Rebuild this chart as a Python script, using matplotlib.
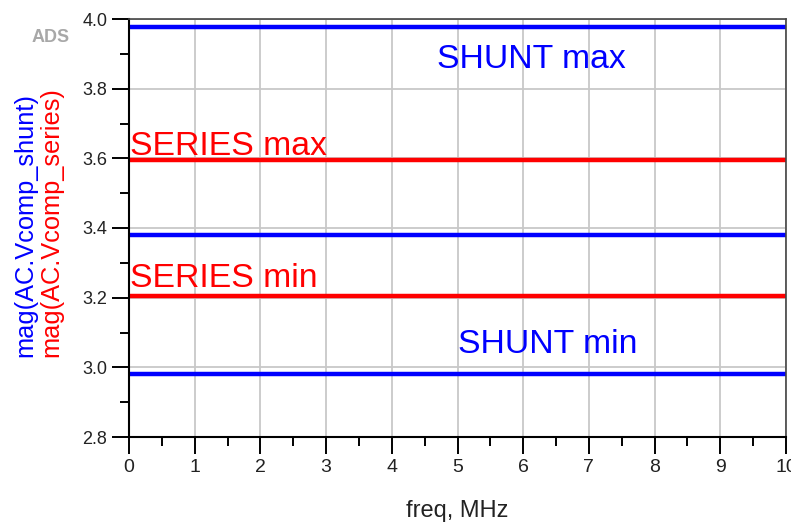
import matplotlib
matplotlib.use("Agg")
import matplotlib.pyplot as plt
from matplotlib.ticker import MultipleLocator

plt.rcParams['font.family'] = ['Liberation Sans', 'DejaVu Sans']

# data (flat magnitude traces over frequency)
freq_mhz = [0, 10]
shunt_max = [3.976, 3.976]
shunt_min = [2.981, 2.981]
shunt_mid = [3.380, 3.380]
series_max = [3.595, 3.595]
series_min = [3.205, 3.205]

xticks = list(range(0, 11))
yticks = [2.8, 3.0, 3.2, 3.4, 3.6, 3.8, 4.0]

blue = '#0000ff'
red = '#ff0000'

fig = plt.figure(figsize=(7.91, 5.25), dpi=100)
ax = fig.add_axes([129 / 791, 1 - 437 / 525, (786 - 129) / 791, (437 - 19) / 525])

ax.plot(freq_mhz, shunt_max, color=blue, lw=3.2, solid_capstyle='butt')
ax.plot(freq_mhz, shunt_mid, color=blue, lw=3.2, solid_capstyle='butt')
ax.plot(freq_mhz, shunt_min, color=blue, lw=3.2, solid_capstyle='butt')
ax.plot(freq_mhz, series_max, color=red, lw=3.2, solid_capstyle='butt')
ax.plot(freq_mhz, series_min, color=red, lw=3.2, solid_capstyle='butt')

ax.set_xlim(0, 10)
ax.set_ylim(2.8, 4.0)
ax.set_xticks(xticks)
ax.set_yticks(yticks)
ax.set_yticklabels([f"{v:.1f}" for v in yticks])
ax.xaxis.set_minor_locator(MultipleLocator(0.5))
ax.yaxis.set_minor_locator(MultipleLocator(0.1))

ax.grid(True, which='major', color='#c8c8c8', lw=1.3)
ax.set_axisbelow(True)

ax.tick_params(which='major', direction='out', length=12.5, width=1.4,
               color='black', labelcolor='#222222')
ax.tick_params(which='minor', direction='out', length=6.5, width=1.4, color='black')
ax.tick_params(axis='y', which='major', labelsize=13, pad=3)
ax.tick_params(axis='x', which='major', labelsize=14, pad=3.5)

for side in ['left', 'bottom']:
    ax.spines[side].set_linewidth(1.5)
    ax.spines[side].set_color('black')
for side in ['top', 'right']:
    ax.spines[side].set_linewidth(1.2)
    ax.spines[side].set_color('#444444')

# trace labels
ax.text(4.69, 3.859, 'SHUNT max', color=blue, fontsize=24.3, va='baseline', ha='left')
ax.text(0.015, 3.610, 'SERIES max', color=red, fontsize=24.3, va='baseline', ha='left')
ax.text(0.015, 3.231, 'SERIES min', color=red, fontsize=24.3, va='baseline', ha='left')
ax.text(5.01, 3.040, 'SHUNT min', color=blue, fontsize=24.3, va='baseline', ha='left')

# axis labels
fig.text(457 / 791, 1 - 511 / 525, 'freq, MHz', fontsize=17, ha='center', va='center',
         color='#222222')
fig.text(25 / 791, 1 - 357 / 525, 'mag(AC.Vcomp_shunt)', color=blue, fontsize=18.3,
         rotation=90, ha='center', va='bottom')
fig.text(51 / 791, 1 - 357 / 525, 'mag(AC.Vcomp_series)', color=red, fontsize=18.3,
         rotation=90, ha='center', va='bottom')

fig.text(51 / 791, 1 - 38 / 525, 'ADS', color='#a8a8a8', fontsize=13,
         fontweight='bold', ha='center', va='center')

fig.savefig('out.png', dpi=100)
